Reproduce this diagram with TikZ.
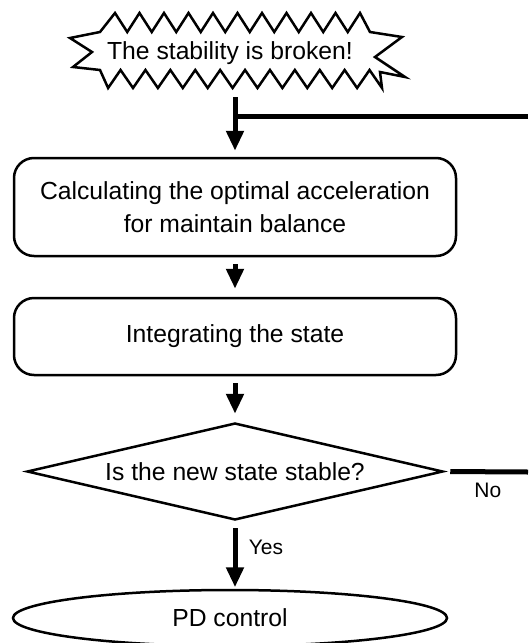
\documentclass[tikz,border=0pt]{standalone}
\usepackage{fontspec}
\setmainfont{Liberation Sans}
\usetikzlibrary{shapes.geometric}
\usetikzlibrary{arrows.meta}
\tikzset{
	every node/.style={font=\fontsize{24.7}{33}\selectfont},
	process/.style={draw, line width=2.5pt, rounded corners=20pt, minimum width=442pt, align=center},
	decision/.style={draw, diamond, aspect=4.3, line width=2.5pt, minimum width=416pt, minimum height=97pt, inner sep=0pt},
	terminal/.style={draw, ellipse, line width=2.5pt, minimum width=434pt, minimum height=56pt, inner sep=0pt},
	flow/.style={line width=5pt, -{Triangle[width=17pt,length=20pt]}, shorten <=7pt, shorten >=8pt},
	loop/.style={line width=5pt},
	answer/.style={font=\fontsize{21}{25}\selectfont}
}

\begin{document}
\begin{tikzpicture}[x=1pt, y=-1pt]
	\useasboundingbox (0,0) rectangle (528,643);
	% define coordinates
	\coordinate (loopin) at (528,116.5);
	\coordinate (loopout) at (528,472);
	% starburst
	\draw[line width=2.5pt] (70,38) -- (100,32) -- (115,13)
		foreach \k in {0,...,9} { -- ({127.25+24.5*\k},32) -- ({139.5+24.5*\k},13) }
		-- (370,32) -- (402,37) -- (375,57) -- (405,77) -- (380,72) -- (382,88)
		foreach \k in {1,...,11} { -- ({394.45-24.9*\k},70) -- ({382-24.9*\k},88) }
		-- (100,70) -- (73,67) -- (92,52) -- cycle;
	\node[minimum height=74pt] (burst) at (230,53) {The stability is broken!};
	% steps
	\node[process, minimum height=98pt] (calc) at (235,207) {Calculating the optimal acceleration\\for maintain balance};
	\node[process, minimum height=77pt] (integ) at (235,336.5) {Integrating the state};
	\node[decision] (stable) at (235,471.5) {Is the new state stable?};
	\node[terminal] (pd) at (230,618) {PD control};
	% arrows
	\draw[flow, shorten >=6pt] (burst.south -| calc.north) -- (calc.north);
	\draw[flow] (calc.south) -- (integ.north);
	\draw[flow] (integ.south) -- (stable.north);
	\draw[flow, shorten >=1.5pt] (stable.south) -- node[answer, right=8pt, pos=0.38] {Yes} (stable.south |- pd.north);
	% loop back
	\draw[loop, shorten <=6pt] (stable.east) -- node[answer, below=5pt, pos=0.52] {No} (loopout);
	\draw[loop] (loopin) -- (loopin -| calc.north);
\end{tikzpicture}
\end{document}
